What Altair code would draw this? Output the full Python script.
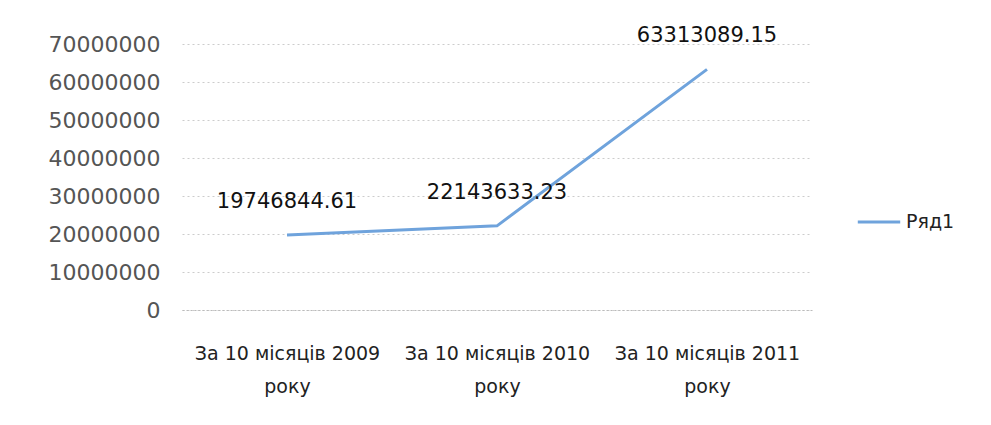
import altair as alt
import pandas as pd

categories = ["За 10 місяців 2009 року", "За 10 місяців 2010 року", "За 10 місяців 2011 року"]
values = [19746844.61, 22143633.23, 63313089.15]
value_labels = ["19746844.61", "22143633.23", "63313089.15"]
series = ["Ряд1", "Ряд1", "Ряд1"]
y_ticks = [0, 10000000, 20000000, 30000000, 40000000, 50000000, 60000000, 70000000]

df = pd.DataFrame({"cat": categories, "val": values, "lab": value_labels, "series": series})

FONT = "DejaVu Sans"

x = alt.X("cat:N", sort=categories, title=None,
          scale=alt.Scale(paddingInner=0, paddingOuter=0.5),
          axis=alt.Axis(labelAngle=0, labelFont=FONT, labelFontSize=19, labelColor="#222",
                        labelExpr="[replace(datum.label, ' року', ''), 'року']",
                        labelLineHeight=33, labelPadding=34, ticks=False, labelOverlap=False,
                        domainColor="#bbbbbb", domainDash=[2, 2], labelLimit=300))
y = alt.Y("val:Q", title=None,
          scale=alt.Scale(domain=[0, 70000000], nice=False),
          axis=alt.Axis(values=y_ticks, tickCount=8,
                        format="d", labelFont=FONT, labelFontSize=22, labelColor="#555",
                        ticks=False, domain=False, labelPadding=22, labelOverlap=False,
                        gridColor="#cccccc", gridDash=[2, 3], gridWidth=1))

line = alt.Chart(df).mark_line(strokeWidth=3, color="#6fa3dc").encode(
    x=x, y=y,
    color=alt.Color("series:N", scale=alt.Scale(range=["#6fa3dc"]),
                    legend=alt.Legend(title=None, orient="none", legendX=674, legendY=155,
                                      symbolType="stroke", symbolStrokeWidth=3, symbolSize=1800,
                                      labelFont=FONT, labelFontSize=19, labelColor="#222"))
)

text = alt.Chart(df).mark_text(font=FONT, fontSize=21, color="#111", dy=-33).encode(
    x=x, y=y, text="lab:N"
)

chart = (line + text).properties(
    width=630, height=266,
    background="white",
    autosize=alt.AutoSizeParams(type="none"),
    padding={"left": 174, "top": 36, "right": 170, "bottom": 105},
).configure_view(strokeWidth=0)

chart.save("out.html", embed_options={"renderer": "svg", "actions": False})
